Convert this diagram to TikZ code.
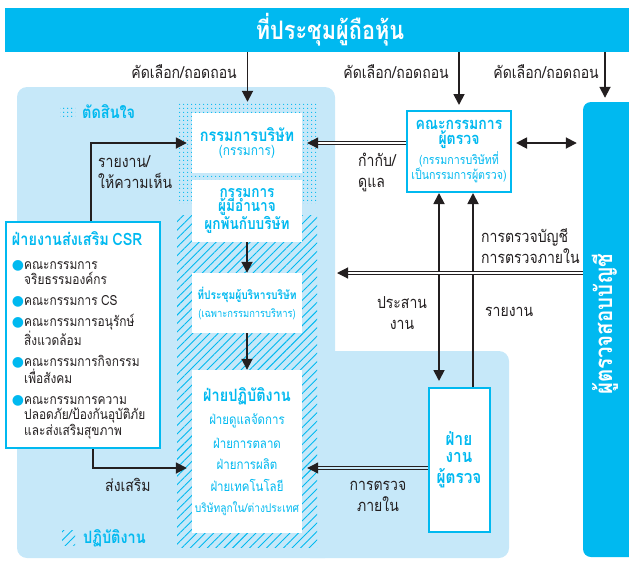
\documentclass[tikz,border=0pt]{standalone}
\usepackage{fontspec}
\setmainfont[Script=Thai,FakeStretch=0.85]{Loma}
\newfontfamily\symfont{DejaVu Sans}
\usetikzlibrary{arrows.meta,patterns.meta}

\definecolor{setcyan}{HTML}{00B9F0}
\definecolor{setpale}{HTML}{C6E8F9}
\definecolor{setink}{HTML}{231F20}

\newcommand\bannerfont{\fontsize{25.5}{28}\selectfont\bfseries}
\newcommand\tagfont{\fontsize{16.5}{21}\selectfont}
\newcommand\headfont{\fontsize{17}{19}\selectfont\bfseries}
\newcommand\subfont{\fontsize{14}{16}\selectfont}
\newcommand\itemfont{\fontsize{13.5}{16}\selectfont}
\newcommand\csrdot{{\symfont\color{setcyan}●}}
\newcommand\csrgap{{\symfont\phantom{●}}}

\begin{document}
\begin{tikzpicture}[
            x = 1pt, y = -1pt, % one unit = one pixel of the layout
            > = {Triangle[length=11pt,width=11pt]}, % arrow head style
            every node/.style = {inner sep=0pt}
        ]

        \tikzstyle{card}=[
            fill = white,
            text = setcyan,
            align = center,
            minimum width = 110
        ]
        \tikzstyle{frame}=[
            draw = setcyan,
            line width = 2pt,
            fill = white,
            text = setcyan,
            align = center
        ]
        \tikzstyle{tag}=[text = setink, font = \tagfont, align = left]
        \tikzstyle{link}=[draw = setink, line width = 1.8pt]
        \tikzstyle{twin}=[draw = setink, line width = 1.1pt, double = white, double distance = 2.2pt]
        \tikzstyle{dotfill}=[pattern = {Dots[radius=0.75pt, distance=4pt]}, pattern color = setcyan]
        \tikzstyle{hatchfill}=[pattern = {Lines[angle=45, distance=6pt, line width=0.9pt]}, pattern color = setcyan]

        % backgrounds
        \useasboundingbox (0,0) rectangle (629,560);
        \fill[setpale, rounded corners=10] (17,87) rectangle (335,558);
        \fill[setpale, rounded corners=10] (300,351) rectangle (509,558);

        \node[dotfill, minimum width=141, minimum height=101] (decide) at (247.5,152.5) {};
        \node[hatchfill, minimum width=140, minimum height=332] (act) at (247,381) {};

        \node[fill=setcyan, text=white, font=\bannerfont, minimum width=650, minimum height=44] (meet) at (330,30) {ที่ประชุมผู้ถือหุ้น};
        \node[fill=setcyan, rounded corners=8, minimum width=67, minimum height=455] (auditor) at (616.5,329.5) {};
        \node[text=white, font=\fontsize{24}{28}\selectfont\bfseries, rotate=90] (auditorname) at (605,324) {ผู้ตรวจสอบบัญชี};

        % company side
        \node[card, minimum height=60] (board) at (247,143) {\headfont กรรมการบริษัท\\[2pt]\subfont (กรรมการ)};
        \node[card, minimum height=62] (auth) at (247,211) {\fontsize{16}{20}\selectfont\bfseries กรรมการ\\\fontsize{16}{20}\selectfont\bfseries ผู้มีอำนาจ\\\fontsize{16}{20}\selectfont\bfseries ผูกพันกับบริษัท};
        \node[card, minimum height=60] (exec) at (247,303) {\fontsize{12}{15}\selectfont\bfseries ที่ประชุมผู้บริหารบริษัท\\[6pt]\fontsize{11}{12}\selectfont (เฉพาะกรรมการบริหาร)};
        \node[card, minimum height=163] (ops) at (247,451.5) {\headfont ฝ่ายปฏิบัติงาน\\[8pt]\itemfont ฝ่ายดูแลจัดการ\\[9pt]\itemfont ฝ่ายการตลาด\\[9pt]\itemfont ฝ่ายการผลิต\\[9pt]\itemfont ฝ่ายเทคโนโลยี\\[9pt]\fontsize{12}{16}\selectfont บริษัทลูกใน/ต่างประเทศ};

        \node[frame, minimum width=104, minimum height=81] (audit) at (459,151.5) {\fontsize{16.5}{19}\selectfont\bfseries คณะกรรมการ\\[1pt]\fontsize{16.5}{19}\selectfont\bfseries ผู้ตรวจ\\[2pt]\fontsize{12.5}{15}\selectfont (กรรมการบริษัทที่\\\fontsize{12.5}{15}\selectfont เป็นกรรมการผู้ตรวจ)};
        \node[frame, minimum width=61, minimum height=144] (inaudit) at (459,460) {\fontsize{18}{19}\selectfont\bfseries ฝ่าย\\[5pt]\fontsize{18}{19}\selectfont\bfseries งาน\\[5pt]\fontsize{18}{19}\selectfont\bfseries ผู้ตรวจ};

        \node[frame, text=setink, align=left, text width=142, minimum height=226, inner xsep=6pt] (csr) at (83,335) {\fontsize{14}{15}\selectfont
            {\headfont\color{setcyan} ฝ่ายงานส่งเสริม CSR}\\[9pt]
            \csrdot คณะกรรมการ\\
            \csrgap จริยธรรมองค์กร\\[6pt]
            \csrdot คณะกรรมการ CS\\[6pt]
            \csrdot คณะกรรมการอนุรักษ์\\
            \csrgap สิ่งแวดล้อม\\[6pt]
            \csrdot คณะกรรมการกิจกรรม\\
            \csrgap เพื่อสังคม\\[6pt]
            \csrdot คณะกรรมการความ\\
            \csrgap ปลอดภัย/ป้องกันอุบัติภัย\\
            \csrgap และส่งเสริมสุขภาพ};

        % legend
        \path[dotfill] (60,107) rectangle (75,118);
        \node[anchor=west, text=setcyan, font=\headfont] (decidekey) at (82,112) {ตัดสินใจ};
        \path[hatchfill] (62,530) rectangle (75,545);
        \node[anchor=west, text=setcyan, font=\headfont] (actkey) at (83,538) {ปฏิบัติงาน};

        % connectors
        \draw[link, ->] (meet.south -| decide) -- (decide.north);
        \draw[link, ->, shorten >=5pt] (meet.south -| audit) -- (audit.north);
        \draw[link, ->, shorten >=4pt] (meet.south -| auditorname) -- (auditorname |- auditor.north);
        \node[tag, anchor=east] (pick1) at (237,72) {คัดเลือก/ถอดถอน};
        \node[tag, anchor=east] (pick2) at (449,72) {คัดเลือก/ถอดถอน};
        \node[tag, anchor=east] (pick3) at (599,72) {คัดเลือก/ถอดถอน};

        \draw[twin, ->, shorten >=5pt] (audit.west |- board) -- (board.east);
        \draw[link, <->, shorten <=4pt, shorten >=6pt] (audit.east |- board) -- (auditor.west |- board);
        \draw[link, <->, shorten >=6pt] ([xshift=-20]audit.south) -- ([xshift=-20]inaudit.north);
        \draw[link, ->] ([xshift=14]inaudit.north) -- ([xshift=14]audit.south);

        \coordinate (edge) at (337,273);
        \draw[twin, ->] (auditor.west |- edge) -- (edge);
        \coordinate (level) at (0,468);
        \draw[twin, double=setpale, ->, shorten >=5pt] (inaudit.west |- level) -- (ops.east |- level);

        \draw[link, ->, shorten >=5pt] ([xshift=8]csr.north) |- (board.west);
        \draw[link, ->, shorten >=5pt] ([xshift=10]csr.south) |- (ops.west |- level);
        \draw[link, ->] (auth.south) -- (exec.north);
        \draw[link, ->] (exec.south) -- (ops.north);

        \node[tag, anchor=west] (report) at (98,172.5) {รายงาน/\\ให้ความเห็น};
        \node[tag, anchor=west] (oversee) at (358,172.5) {กำกับ/\\ดูแล};
        \node[tag, anchor=west] (checks) at (481,246.5) {การตรวจบัญชี\\การตรวจภายใน};
        \node[tag, align=center] (coord) at (402,313) {ประสาน\\งาน};
        \node[tag, anchor=west] (reportup) at (485,312) {รายงาน};
        \node[tag, align=center] (inner) at (378,496) {การตรวจ\\ภายใน};
        \node[tag, anchor=west] (promote) at (105,485) {ส่งเสริม};

    \end{tikzpicture}
\end{document}
